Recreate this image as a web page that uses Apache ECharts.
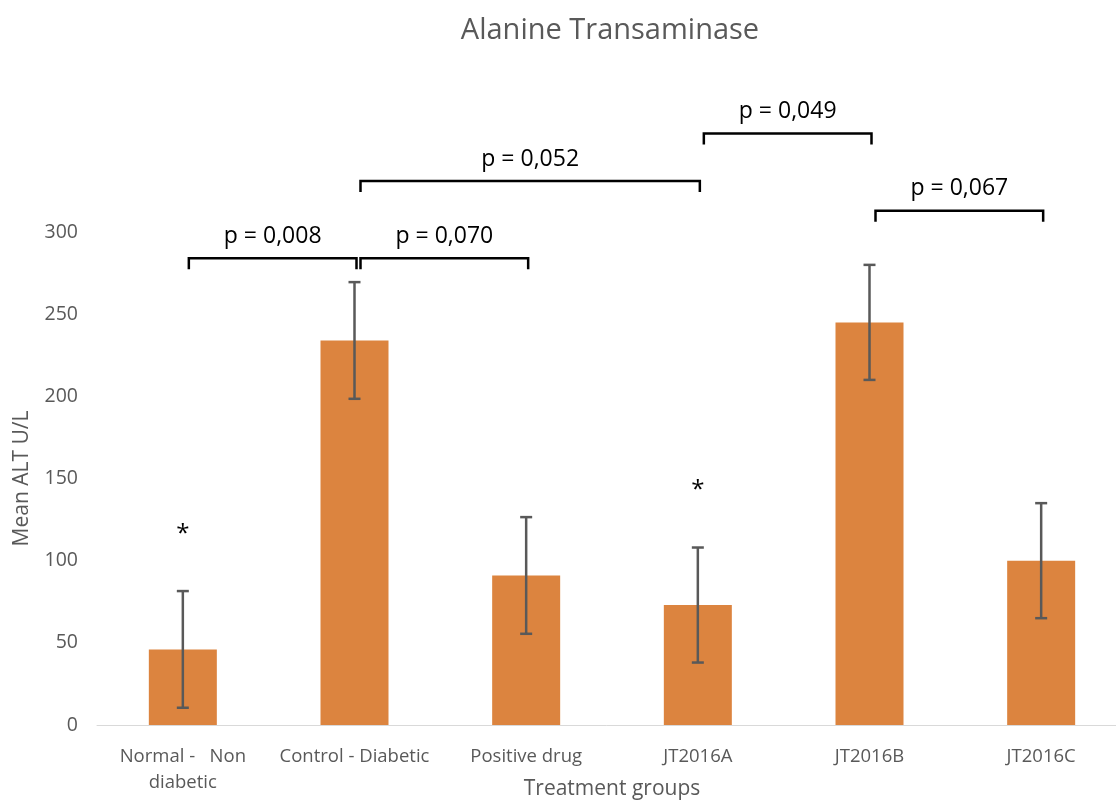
<!DOCTYPE html>
<html>
<head>
<meta charset="utf-8">
<script src="https://cdn.jsdelivr.net/npm/echarts@6/dist/echarts.min.js"></script>
<style>html,body{margin:0;padding:0;background:#fff;overflow:hidden;}#chart{width:1116px;height:802px;}</style>
</head>
<body>
<div id="chart"></div>
<script>
// ---- data ----
const categories = ['Normal -   Non\ndiabetic', 'Control - Diabetic', 'Positive drug', 'JT2016A', 'JT2016B', 'JT2016C'];
const meanALT = [46, 234, 91, 73, 245, 100];
const errALT = [35.5, 35.5, 35.5, 35, 35, 35];
const significant = [true, false, false, true, false, false];
const yTicks = [0, 50, 100, 150, 200, 250, 300];
const bracketFrom = [0, 1, 1, 3, 4];
const bracketTo = [1, 2, 3, 4, 5];
const bracketLevel = [284, 284, 331, 360, 313];
const bracketLabel = ['p = 0,008', 'p = 0,070', 'p = 0,052', 'p = 0,049', 'p = 0,067'];

const FONT = 'Open Sans';
const chart = echarts.init(document.getElementById('chart'), null, {renderer: 'canvas'});

const errData = meanALT.map((m, i) => [i, m - errALT[i], m + errALT[i]]);
const starData = meanALT.map((m, i) => significant[i] ? [i, m + errALT[i]] : null).filter(d => d);
const bracketData = bracketFrom.map((f, i) => [f, bracketTo[i], bracketLevel[i], i]);

chart.setOption({
  animation: false,
  backgroundColor: '#ffffff',
  title: {
    text: 'Alanine Transaminase', left: 605, top: 11, textAlign: 'center',
    textStyle: {fontFamily: FONT, fontSize: 29, fontWeight: 'normal', color: '#595959'}
  },
  grid: {left: 97, top: 232, width: 1030, height: 493, containLabel: false, outerBoundsMode: 'none'},
  xAxis: {
    type: 'category', data: categories,
    axisLine: {lineStyle: {color: '#D9D9D9', width: 1}},
    axisTick: {show: false},
    axisLabel: {color: '#595959', fontFamily: FONT, fontSize: 18.5, margin: 19, lineHeight: 26, interval: 0},
    name: 'Treatment groups', nameLocation: 'middle', nameGap: 54, nameMoveOverlap: false,
    nameTextStyle: {color: '#595959', fontFamily: FONT, fontSize: 21}
  },
  yAxis: {
    type: 'value', min: 0, max: 300, interval: 50,
    splitLine: {show: false}, axisLine: {show: false}, axisTick: {show: false},
    axisLabel: {color: '#595959', fontFamily: FONT, fontSize: 19.5, margin: 19,
      formatter: v => yTicks.includes(v) ? String(v) : ''},
    name: 'Mean ALT U/L', nameLocation: 'middle', nameGap: 64, nameRotate: 90, nameMoveOverlap: false,
    nameTextStyle: {color: '#595959', fontFamily: FONT, fontSize: 21}
  },
  series: [
    {
      type: 'bar', data: meanALT, barWidth: 68,
      itemStyle: {color: '#DC843F'}
    },
    {
      type: 'custom', data: errData, encode: {x: 0, y: [1, 2]}, z: 5,
      renderItem: function (params, api) {
        const lo = api.coord([api.value(0), api.value(1)]);
        const hi = api.coord([api.value(0), api.value(2)]);
        const x = lo[0], cw = 6;
        const st = {stroke: '#595959', lineWidth: 2.5};
        return {type: 'group', children: [
          {type: 'line', shape: {x1: x, y1: lo[1], x2: x, y2: hi[1]}, style: st},
          {type: 'line', shape: {x1: x - cw, y1: lo[1], x2: x + cw, y2: lo[1]}, style: st},
          {type: 'line', shape: {x1: x - cw, y1: hi[1], x2: x + cw, y2: hi[1]}, style: st}
        ]};
      }
    },
    {
      type: 'custom', data: starData, encode: {x: 0, y: 1}, z: 5,
      renderItem: function (params, api) {
        const p = api.coord([api.value(0), api.value(1)]);
        return {type: 'text', x: p[0], y: p[1] - 57, style: {
          text: '*', fill: '#000', fontFamily: FONT, fontSize: 24, align: 'center', verticalAlign: 'middle'}};
      }
    },
    {
      type: 'custom', data: bracketData, encode: {x: [0, 1], y: 2}, z: 5,
      renderItem: function (params, api) {
        const a = api.coord([api.value(0), api.value(2)]);
        const b = api.coord([api.value(1), api.value(2)]);
        const x1 = a[0] + 6, x2 = b[0] + 2, y = a[1];
        return {type: 'group', children: [
          {type: 'polyline', shape: {points: [[x1, y + 11], [x1, y], [x2, y], [x2, y + 11]]},
            style: {stroke: '#000', lineWidth: 2.5, fill: null}},
          {type: 'text', x: (x1 + x2) / 2, y: y - 22, style: {
            text: bracketLabel[api.value(3)], fill: '#000', fontFamily: FONT, fontSize: 23,
            align: 'center', verticalAlign: 'middle'}}
        ]};
      }
    }
  ]
});
</script>
</body>
</html>
